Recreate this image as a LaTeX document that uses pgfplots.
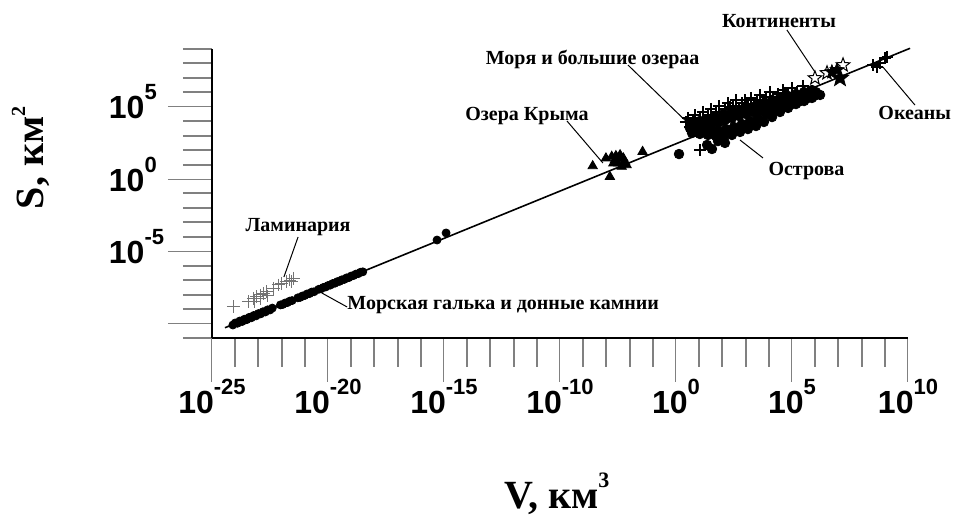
\documentclass[border=0pt]{standalone}
\usepackage{pgfplots}
\pgfplotsset{compat=1.18}
\usepackage{fontspec}
\setmainfont{Liberation Serif}
\setsansfont{Liberation Sans}

% tick label "10^n" in text font
\newcommand{\tl}[1]{10\raisebox{9.5pt}{\fontsize{11}{11}\selectfont #1}}

% five-pointed star mark
\pgfdeclareplotmark{pstar}{%
  \pgfpathmoveto{\pgfpointpolar{90}{\pgfplotmarksize}}%
  \pgfpathlineto{\pgfpointpolar{126}{0.42\pgfplotmarksize}}%
  \pgfpathlineto{\pgfpointpolar{162}{\pgfplotmarksize}}%
  \pgfpathlineto{\pgfpointpolar{198}{0.42\pgfplotmarksize}}%
  \pgfpathlineto{\pgfpointpolar{234}{\pgfplotmarksize}}%
  \pgfpathlineto{\pgfpointpolar{270}{0.42\pgfplotmarksize}}%
  \pgfpathlineto{\pgfpointpolar{306}{\pgfplotmarksize}}%
  \pgfpathlineto{\pgfpointpolar{342}{0.42\pgfplotmarksize}}%
  \pgfpathlineto{\pgfpointpolar{18}{\pgfplotmarksize}}%
  \pgfpathlineto{\pgfpointpolar{54}{0.42\pgfplotmarksize}}%
  \pgfpathclose
  \pgfusepathqfillstroke}

\begin{document}
\begin{tikzpicture}
\begin{axis}[
  scale only axis, width=348pt, height=144.5pt,
  xmin=-20, xmax=10, ymin=-11, ymax=9,
  axis lines*=left,
  axis line style={line width=1pt},
  tick align=outside,
  xtick={-20,-15,-10,-5,0,5,10},
  xticklabels={\tl{-25},\tl{-20},\tl{-15},\tl{-10},\tl{0},\tl{5},\tl{10}},
  minor xtick={-19,-18,-17,-16,-14,-13,-12,-11,-9,-8,-7,-6,-4,-3,-2,-1,1,2,3,4,6,7,8,9},
  ytick={-10,-5,0,5},
  yticklabels={,\tl{-5},\tl{0},\tl{5}},
  minor ytick={-11,-9,-8,-7,-6,-4,-3,-2,-1,1,2,3,4,6,7,8,9},
  major tick length=22pt, minor tick length=14.5pt,
  major tick style={line width=0.5pt},
  minor tick style={line width=1pt},
  ticklabel style={font=\fontsize{16}{16}\selectfont\sffamily\bfseries},
  xticklabel style={yshift=5pt},
  yticklabel style={yshift=2.5pt, text width=26pt, align=left},
  clip=false,
]
% regression line
\addplot[black, line width=0.8pt] coordinates {(-19.44,-10.29) (10.09,9.05)};

% sea pebbles and bottom stones
\addplot[only marks, mark=*, mark size=2pt, black] coordinates {
(-19.10,-10.10) (-19.00,-9.96) (-18.90,-9.98) (-18.80,-9.82) (-18.70,-9.86) (-18.60,-9.70)
(-18.50,-9.73) (-18.40,-9.57) (-18.30,-9.60) (-18.20,-9.44) (-18.10,-9.47) (-18.00,-9.31)
(-17.90,-9.33) (-17.80,-9.18) (-17.70,-9.20) (-17.60,-9.05) (-17.50,-9.06) (-17.40,-8.93)
(-17.05,-8.71) (-16.95,-8.68) (-16.85,-8.58) (-16.75,-8.55) (-16.65,-8.45) (-16.55,-8.41)
(-16.30,-8.22) (-16.20,-8.19) (-16.10,-8.09) (-16.00,-8.06) (-15.90,-7.95) (-15.80,-7.93)
(-15.70,-7.82) (-15.60,-7.80)
(-15.40,-7.63) (-15.30,-7.60) (-15.20,-7.50) (-15.10,-7.47) (-15.00,-7.37) (-14.90,-7.34)
(-14.80,-7.23) (-14.70,-7.21) (-14.60,-7.10) (-14.50,-7.08) (-14.40,-6.97) (-14.30,-6.95)
(-14.20,-6.84) (-14.10,-6.82) (-14.00,-6.71) (-13.90,-6.68) (-13.80,-6.58) (-13.70,-6.55)
(-13.60,-6.45) (-13.50,-6.42)
(-10.30,-4.22) (-9.91,-3.73)};

% laminaria
\addplot[only marks, mark=+, mark size=3.2pt, draw=black!55, line width=0.5pt] coordinates {
(-19.08,-8.83) (-18.44,-8.49) (-18.22,-8.25) (-18.07,-8.14) (-17.93,-8.02) (-17.79,-7.91)
(-17.64,-7.80) (-17.36,-7.56) (-17.14,-7.33) (-17.00,-7.22) (-16.78,-7.10) (-16.64,-6.99)
(-16.50,-6.87) (-16.57,-7.10) (-18.15,-8.49) (-17.93,-8.30) (-17.59,-8.09)};

% Crimean lakes
\addplot[only marks, mark=triangle*, mark size=2.7pt, black] coordinates {
(-3.59,0.90) (-2.85,0.16) (-3.02,1.44) (-2.77,1.55) (-2.59,1.60) (-2.41,1.66) (-2.27,1.44)
(-2.13,0.97) (-2.49,1.09) (-2.70,1.09) (-2.34,0.86) (-1.44,1.89) (-2.63,1.32) (-2.20,1.20)};

% islands
\addplot[only marks, mark=*, mark size=2.4pt, black] coordinates {
(0.69,3.19) (1.03,3.12) (1.38,3.05) (1.72,2.98) (2.07,2.98) (2.41,3.05) (2.76,3.26)
(3.10,3.46) (3.45,3.67) (3.79,3.95) (4.14,4.29) (4.48,4.64) (4.83,4.92) (5.17,5.19)
(5.52,5.40) (5.86,5.61) (6.21,5.82)
(0.78,3.33) (1.12,3.39) (1.47,3.39) (1.81,3.39) (2.16,3.46) (2.50,3.60) (2.84,3.81)
(3.19,4.02) (3.53,4.23) (3.88,4.50) (4.22,4.71) (4.57,4.92) (4.91,5.12) (5.26,5.33)
(5.60,5.54) (5.95,5.75)
(0.60,3.53) (0.91,3.60) (1.21,3.67) (1.51,3.74) (1.81,3.95) (2.11,4.09) (2.41,4.23)
(2.72,4.36) (3.02,4.50) (3.32,4.64) (3.62,4.78) (3.92,4.92) (4.22,5.12) (4.53,5.26)
(4.83,5.40) (5.13,5.54) (5.43,5.75) (5.73,5.89) (6.03,6.02)
(0.69,3.81) (1.03,4.02) (1.38,4.16) (1.72,4.29) (2.07,4.50) (2.41,4.64) (2.76,4.78)
(3.10,4.92) (3.45,5.06) (3.79,5.26) (4.14,5.47) (4.48,5.61) (4.83,5.75) (5.17,5.89)
(5.52,6.02) (5.86,6.16)
(0.13,1.73) (1.34,2.36) (1.55,2.08) (1.81,2.63) (2.11,2.50)};

% seas and large lakes
\addplot[only marks, mark=+, mark size=3pt, black, line width=1pt] coordinates {
(0.43,3.95) (0.52,4.23) (0.60,3.60) (0.73,4.09) (0.82,4.43) (0.95,3.81) (1.03,4.23)
(1.16,4.64) (1.25,4.02) (1.38,4.43) (1.51,4.85) (1.60,4.23) (1.72,4.64) (1.85,5.06)
(1.98,4.43) (2.11,4.85) (2.24,5.26) (2.33,4.64) (2.46,5.06) (2.59,5.47) (2.72,4.85)
(2.84,5.26) (2.97,5.47) (3.10,5.06) (3.23,5.61) (3.36,5.19) (3.49,5.47) (3.62,5.82)
(3.75,5.33) (3.88,5.68) (4.05,6.02) (4.18,5.68) (4.40,5.89) (4.61,6.16) (4.78,5.82)
(5.00,6.30) (5.22,6.02) (5.47,6.44) (5.69,6.09) (2.33,4.99) (3.06,5.12) (4.35,5.68)
(4.70,5.96) (1.03,2.01)};

% continents
\addplot[only marks, mark=pstar, mark size=3.6pt, black, mark options={fill=white, line width=0.5pt}] coordinates {
(5.99,6.99) (6.51,7.34) (7.20,7.89)};
\addplot[only marks, mark=pstar, mark size=3.6pt, black, mark options={fill=black}] coordinates {
(6.72,7.41) (6.94,7.55)};
\addplot[only marks, mark=pstar, mark size=4.6pt, black, mark options={fill=black}] coordinates {
(7.07,6.99)};

% oceans
\addplot[only marks, mark=+, mark size=2.8pt, black, line width=1pt] coordinates {
(8.49,7.89) (8.66,7.75) (8.79,8.03) (9.01,8.38) (9.10,8.45)};

% annotations
\begin{scope}[line width=0.5pt]
\draw (axis cs:-16.29,-4.01) -- (axis cs:-16.90,-6.78);
\draw (axis cs:-15.26,-7.89) -- (axis cs:-14.18,-8.85);
\draw (axis cs:-4.70,4.02) -- (axis cs:-3.15,1.11);
\draw (axis cs:-2.07,7.89) -- (axis cs:0.60,3.74);
\draw (axis cs:4.78,10.32) -- (axis cs:5.99,7.41);
\draw (axis cs:10.30,5.12) -- (axis cs:8.92,7.75);
\draw (axis cs:3.75,1.46) -- (axis cs:2.76,2.70);
\end{scope}
\begin{scope}[every node/.style={font=\fontsize{10}{12}\selectfont\bfseries, inner sep=0pt}]
\node[anchor=base] at (axis cs:-16.29,-3.60) {Ламинария};
\node[anchor=base west] at (axis cs:-14.18,-9.06) {Морская галька и донные камнии};
\node[anchor=base] at (axis cs:-6.42,4.02) {Озера Крыма};
\node[anchor=base east] at (axis cs:1.03,7.96) {Моря и большие озераа};
\node[anchor=base] at (axis cs:4.44,10.52) {Континенты};
\node[anchor=base west] at (axis cs:8.71,4.09) {Океаны};
\node[anchor=base west] at (axis cs:3.97,0.28) {Острова};
\end{scope}
% axis titles
\node[anchor=base, inner sep=0pt, font=\fontsize{20}{24}\selectfont\bfseries]
  at (axis cs:-5.13,-22.77) {V, км\raisebox{10.5pt}{\fontsize{11}{11}\selectfont 3}};
\node[anchor=base, rotate=90, inner sep=0pt, font=\fontsize{20}{24}\selectfont\bfseries]
  at (axis cs:-27.28,1.46) {S, км\raisebox{9pt}{\fontsize{10}{10}\selectfont 2}};
\coordinate (TL) at (axis cs:-29.138,12.391);
\coordinate (BR) at (axis cs:11.94,-23.25);
\end{axis}
\pgfresetboundingbox
\useasboundingbox (TL) rectangle (BR);
\end{tikzpicture}
\end{document}
